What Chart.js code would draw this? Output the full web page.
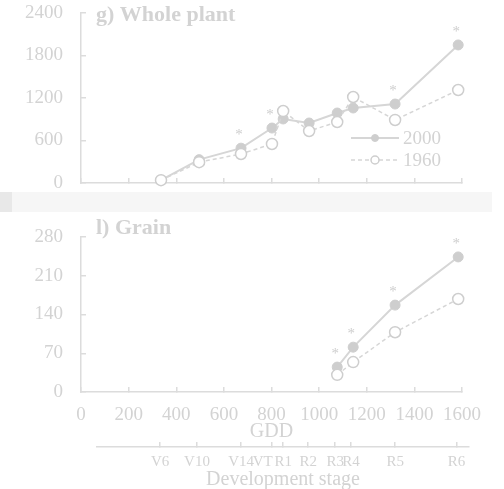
<!DOCTYPE html>
<html>
<head>
<meta charset="utf-8">
<title>Whole plant and grain</title>
<script src="https://cdn.jsdelivr.net/npm/chart.js@4.4.1/dist/chart.umd.min.js"></script>
<style>
  html, body { margin: 0; padding: 0; background: #fff; }
  body { width: 504px; height: 489px; position: relative; overflow: hidden; }
  canvas { position: absolute; left: 0; }
  #wholeChart { top: 0; }
  #bandEdge { position: absolute; left: 0; top: 192px; width: 12px; height: 20px; background: #e8e8e8; }
  #band { position: absolute; left: 12px; top: 192px; width: 480px; height: 20px; background: #f6f6f6; }
  #grainChart { top: 212px; }
  #stageChart { top: 440px; }
</style>
</head>
<body>
<canvas id="wholeChart" width="504" height="190"></canvas>
<div id="bandEdge"></div><div id="band"></div>
<canvas id="grainChart" width="504" height="232"></canvas>
<canvas id="stageChart" width="504" height="52"></canvas>
<script>
// GDD of each sampling, and dry matter per panel
const gddWhole = [336, 496, 672, 802, 849, 958, 1076, 1143, 1319, 1584];
const whole2000 = [40, 330, 492, 776, 904, 847, 988, 1059, 1115, 1949];
const whole1960 = [40, 294, 410, 551, 1016, 734, 861, 1214, 890, 1313];
const wholeSig = [0, 0, 1, 1, 0, 0, 0, 0, 1, 1];

const gddGrain = [1076, 1143, 1319, 1584];
const grain2000 = [45, 81, 157, 244];
const grain1960 = [31, 54, 108, 168];
const grainSig = [1, 1, 1, 1];

const stageNames = ['V6', 'V10', 'V14', 'VT', 'R1', 'R2', 'R3', 'R4', 'R5', 'R6'];
const stageGdd = [332, 487, 672, 802, 849, 954, 1067, 1134, 1319, 1576];

const textColor = '#d3d3d3';
const axisColor = '#dcdcdc';
const lineColor = '#d6d6d6';
const markColor = '#cecece';

Chart.defaults.font.family = "'Liberation Serif', 'Times New Roman', serif";
Chart.defaults.color = textColor;

function xy(xs, ys) {
    return xs.map((x, i) => ({ x: x, y: ys[i] }));
}

function makeDatasets(xs, new2000, old1960) {
    return [{
        label: '2000',
        data: xy(xs, new2000),
        clip: false,
        borderColor: lineColor,
        borderWidth: 2,
        pointRadius: 5,
        pointBackgroundColor: markColor,
        pointBorderColor: markColor,
        pointBorderWidth: 1,
        tension: 0
    }, {
        label: '1960',
        data: xy(xs, old1960),
        clip: false,
        order: -1,
        borderColor: lineColor,
        borderWidth: 1.5,
        borderDash: [4, 3],
        pointRadius: 5.5,
        pointBackgroundColor: '#ffffff',
        pointBorderColor: markColor,
        pointBorderWidth: 1.5,
        tension: 0
    }];
}

// the scales add their label padding to the chart area, drop it
function noScalePadding(s) {
    s.paddingTop = 0;
    s.paddingBottom = 0;
    s.paddingLeft = 0;
    s.paddingRight = 0;
}

// "g) Whole plant" etc. near the top left of the plot
const panelLabel = {
    id: 'panelLabel',
    afterDraw(chart, args, opts) {
        const ctx = chart.ctx;
        ctx.save();
        ctx.font = "bold 22px 'Liberation Serif', serif";
        ctx.fillStyle = textColor;
        ctx.textBaseline = 'middle';
        ctx.fillText(opts.text, chart.chartArea.left + opts.dx, chart.chartArea.top + opts.dy);
        ctx.restore();
    }
};

// asterisks over the 2000 points that differ
const stars = {
    id: 'stars',
    afterDatasetsDraw(chart, args, opts) {
        const meta = chart.getDatasetMeta(0);
        const ctx = chart.ctx;
        ctx.save();
        ctx.font = "15px 'Liberation Serif', serif";
        ctx.fillStyle = markColor;
        ctx.textAlign = 'center';
        ctx.textBaseline = 'alphabetic';
        opts.flags.forEach((f, i) => {
            if (!f) return;
            const p = meta.data[i];
            ctx.fillText('*', p.x - 2, p.y - 9);
        });
        ctx.restore();
    }
};

// legend drawn inside the top panel
const innerLegend = {
    id: 'innerLegend',
    afterDraw(chart) {
        const ctx = chart.ctx;
        const rows = [[chart.data.datasets[0], 138, 3.5], [chart.data.datasets[1], 160, 4]];
        ctx.save();
        rows.forEach(([ds, y, r]) => {
            ctx.strokeStyle = ds.borderColor;
            ctx.lineWidth = ds.borderWidth;
            ctx.setLineDash(ds.borderDash || []);
            ctx.beginPath();
            ctx.moveTo(351, y);
            ctx.lineTo(399, y);
            ctx.stroke();
            ctx.setLineDash([]);
            ctx.beginPath();
            ctx.arc(375, y, r, 0, Math.PI * 2);
            ctx.fillStyle = ds.pointBackgroundColor;
            ctx.fill();
            ctx.lineWidth = ds.pointBorderWidth;
            ctx.strokeStyle = ds.pointBorderColor;
            ctx.stroke();
            ctx.font = "19px 'Liberation Serif', serif";
            ctx.fillStyle = textColor;
            ctx.textBaseline = 'middle';
            ctx.fillText(ds.label, 403, y + 1);
        });
        ctx.restore();
    }
};

function panelOptions(yMax, yStep, label, labelDy, flags, showX, padTop, xHeight) {
    return {
        responsive: false,
        animation: false,
        layout: { padding: { top: padTop, right: 42, left: 0, bottom: 0 } },
        plugins: {
            legend: { display: false },
            tooltip: { enabled: false },
            panelLabel: { text: label, dx: 15, dy: labelDy },
            stars: { flags: flags }
        },
        scales: {
            x: {
                type: 'linear',
                min: 0,
                max: 1600,
                ticks: {
                    stepSize: 200, display: showX, padding: 17, autoSkip: false,
                    maxRotation: 0, minRotation: 0,
                    font: { size: 19 }, color: textColor,
                    callback: v => String(v)
                },
                grid: { drawOnChartArea: false, tickLength: -5, color: axisColor, lineWidth: 1.5 },
                border: { color: axisColor, width: 1.5 },
                title: { display: showX, text: 'GDD', font: { size: 20 }, color: textColor, padding: 0 },
                afterFit: s => { noScalePadding(s); s.height = xHeight; }
            },
            y: {
                min: 0,
                max: yMax,
                ticks: {
                    stepSize: yStep, padding: 23,
                    font: { size: 19 }, color: textColor,
                    callback: v => String(v)
                },
                grid: { drawOnChartArea: false, tickLength: -5, color: axisColor, lineWidth: 1.5 },
                border: { color: axisColor, width: 1.5 },
                afterFit: s => { noScalePadding(s); s.width = 81; }
            }
        }
    };
}

new Chart(document.getElementById('wholeChart'), {
    type: 'line',
    data: { datasets: makeDatasets(gddWhole, whole2000, whole1960) },
    options: panelOptions(2400, 600, 'g) Whole plant', 2, wholeSig, false, 13, 7),
    plugins: [panelLabel, stars, innerLegend]
});

new Chart(document.getElementById('grainChart'), {
    type: 'line',
    data: { datasets: makeDatasets(gddGrain, grain2000, grain1960) },
    options: panelOptions(280, 70, 'l) Grain', -9, grainSig, true, 25, 52),
    plugins: [panelLabel, stars]
});

// second axis: development stages on the GDD scale
new Chart(document.getElementById('stageChart'), {
    type: 'scatter',
    data: { datasets: [] },
    options: {
        responsive: false,
        animation: false,
        layout: { padding: { top: 2, left: 97, right: 35, bottom: 0 } },
        plugins: { legend: { display: false }, tooltip: { enabled: false } },
        scales: {
            y: { display: false },
            x: {
                type: 'linear',
                min: 67,
                max: 1629,
                afterBuildTicks: s => { s.ticks = stageGdd.map(v => ({ value: v })); },
                ticks: {
                    autoSkip: false,
                    maxRotation: 0,
                    minRotation: 0,
                    padding: 11,
                    font: { size: 15 },
                    color: textColor,
                    callback: (v, i) => stageNames[i] === 'VT' ? 'VT\u2003 ' : stageNames[i]
                },
                grid: { drawOnChartArea: false, tickLength: -5, color: axisColor, lineWidth: 1.5 },
                border: { color: axisColor, width: 1.5 },
                title: { display: true, text: 'Development stage', font: { size: 20 }, color: textColor, padding: 0 },
                afterFit: s => { noScalePadding(s); s.height = 45; }
            }
        }
    }
});
</script>
</body>
</html>
